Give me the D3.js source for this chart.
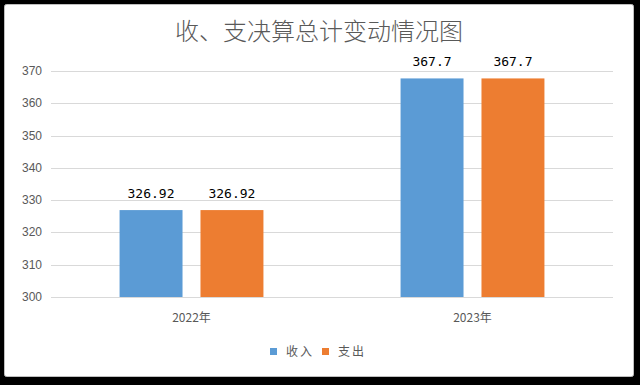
<!DOCTYPE html>
<html>
<head>
<meta charset="utf-8">
<script src="https://cdn.jsdelivr.net/npm/d3@7"></script>
<style>
  html, body { margin: 0; padding: 0; background: #000; }
  svg { display: block; }
</style>
</head>
<body>
<svg></svg>
<script>
// data
const years = ['2022年', '2023年'];
const seriesNames = ['收入', '支出'];
const income = [326.92, 367.7];
const expense = [326.92, 367.7];
const labels = [['326.92', '326.92'], ['367.7', '367.7']];
const yTicks = [300, 310, 320, 330, 340, 350, 360, 370];
const colors = ['#5B9BD5', '#ED7D31'];

const width = 640, height = 385;
const svg = d3.select('svg').attr('width', width).attr('height', height);
const font = '"Noto Sans CJK SC", "Noto Sans", sans-serif';

// white panel
svg.append('rect')
  .attr('x', 4.5).attr('y', 4.5)
  .attr('width', 629).attr('height', 372)
  .attr('rx', 2)
  .attr('fill', '#fff')
  .attr('stroke', '#bfbfbf');

// title
svg.append('text')
  .attr('x', 319).attr('y', 40)
  .attr('text-anchor', 'middle')
  .attr('font-family', font)
  .attr('font-weight', 300)
  .attr('font-size', 24)
  .attr('fill', '#595959')
  .text('收、支决算总计变动情况图');

const plotLeft = 51, plotRight = 613, plotTop = 71, plotBottom = 297;

const y = d3.scaleLinear().domain([300, 370]).range([plotBottom, plotTop]);
const x0 = d3.scaleBand().domain(years).range([plotLeft, plotRight]).padding(0);
const bw = x0.bandwidth();
const x1 = d3.scaleBand().domain(seriesNames)
  .range([bw * 0.244, bw * 0.756]).paddingInner(0.222);

const g = svg.append('g');

// grid
g.selectAll('line.grid').data(yTicks).join('line')
  .attr('class', 'grid')
  .attr('x1', plotLeft).attr('x2', plotRight)
  .attr('y1', d => Math.round(y(d)) + 0.5).attr('y2', d => Math.round(y(d)) + 0.5)
  .attr('stroke', '#d9d9d9').attr('stroke-width', 1);

// y labels
g.selectAll('text.ytick').data(yTicks).join('text')
  .attr('class', 'ytick')
  .attr('x', 42).attr('y', d => y(d) + 4)
  .attr('text-anchor', 'end')
  .attr('font-family', '"Liberation Sans", Arial, sans-serif')
  .attr('font-size', 12)
  .attr('fill', '#595959')
  .text(d => d);

// bars
const rows = years.map((yr, i) => ({ year: yr, vals: [income[i], expense[i]], labs: labels[i] }));
const grp = g.selectAll('g.year').data(rows).join('g')
  .attr('class', 'year')
  .attr('transform', d => `translate(${x0(d.year)},0)`);

grp.selectAll('rect').data(d => d.vals.map((v, j) => ({ s: seriesNames[j], v, j }))).join('rect')
  .attr('x', d => x1(d.s))
  .attr('y', d => y(d.v))
  .attr('width', x1.bandwidth())
  .attr('height', d => y(300) - y(d.v))
  .attr('fill', d => colors[d.j]);

grp.selectAll('text.val').data(d => d.labs.map((t, j) => ({ s: seriesNames[j], t, v: d.vals[j] }))).join('text')
  .attr('class', 'val')
  .attr('x', d => x1(d.s) + x1.bandwidth() / 2)
  .attr('y', d => y(d.v) - 12)
  .attr('text-anchor', 'middle')
  .attr('font-family', '"DejaVu Sans Mono", monospace')
  .attr('font-size', 13)
  .attr('fill', '#000')
  .text(d => d.t);

// x labels
g.selectAll('text.xlab').data(years).join('text')
  .attr('class', 'xlab')
  .attr('x', d => x0(d) + bw / 2)
  .attr('y', 322)
  .attr('text-anchor', 'middle')
  .attr('font-family', font)
  .attr('font-size', 12)
  .attr('fill', '#595959')
  .text(d => d);

// legend
const legend = svg.append('g');
const lx = [270, 322];
seriesNames.forEach((name, i) => {
  legend.append('rect')
    .attr('x', lx[i]).attr('y', 348)
    .attr('width', 7).attr('height', 7)
    .attr('fill', colors[i]);
  legend.append('text')
    .attr('x', lx[i] + 16).attr('y', 356)
    .attr('font-family', font)
    .attr('font-size', 12)
    .attr('letter-spacing', 2)
    .attr('fill', '#595959')
    .text(name);
});
</script>
</body>
</html>
